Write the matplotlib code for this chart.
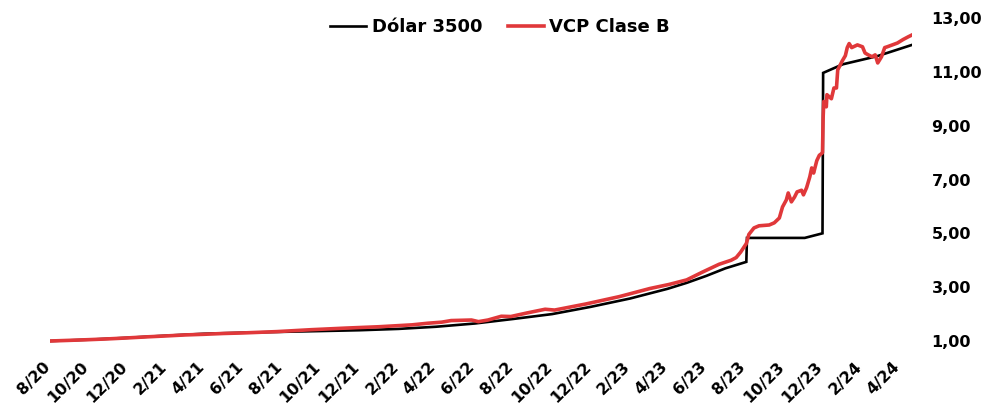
import matplotlib
matplotlib.use("Agg")
import matplotlib.dates as mdates
import matplotlib.pyplot as plt
import matplotlib.transforms as mtransforms
import pandas as pd

# Dólar 3500 (normalised, base 8/20 = 1)
dolar_dates = [
    "2020-08-01", "2020-10-01", "2020-12-01", "2021-02-01", "2021-04-01",
    "2021-06-01", "2021-08-01", "2021-10-01", "2021-12-01", "2022-02-01",
    "2022-04-01", "2022-06-01", "2022-08-01", "2022-10-01", "2022-12-01",
    "2023-02-01", "2023-04-01", "2023-05-01", "2023-06-01", "2023-07-01",
    "2023-08-03", "2023-08-04", "2023-11-03", "2023-12-01", "2023-12-02",
    "2024-01-02", "2024-02-25", "2024-04-20",
]
dolar_values = [
    1.00, 1.05, 1.12, 1.20, 1.27,
    1.31, 1.34, 1.37, 1.40, 1.45,
    1.53, 1.65, 1.82, 2.00, 2.27,
    2.58, 2.94, 3.16, 3.42, 3.70,
    3.94, 4.83, 4.83, 5.00, 10.96,
    11.28, 11.58, 12.00,
]

# VCP Clase B (normalised)
vcp_dates = [
    "2020-08-01", "2020-09-01", "2020-10-01", "2020-11-01", "2020-12-01",
    "2021-01-01", "2021-02-01", "2021-03-01", "2021-04-01", "2021-05-01",
    "2021-06-01", "2021-07-25", "2021-09-16", "2021-11-10", "2022-01-01",
    "2022-02-22", "2022-03-19", "2022-04-10", "2022-04-25", "2022-05-27",
    "2022-06-07", "2022-06-22", "2022-07-13", "2022-07-28", "2022-08-22",
    "2022-09-20", "2022-10-05", "2022-11-24", "2023-01-15", "2023-03-04",
    "2023-04-03", "2023-05-01", "2023-05-25", "2023-06-21", "2023-07-10",
    "2023-07-18", "2023-07-25", "2023-08-03", "2023-08-07", "2023-08-15",
    "2023-08-23", "2023-09-08", "2023-09-16", "2023-09-24", "2023-09-29",
    "2023-10-05", "2023-10-08", "2023-10-13", "2023-10-18", "2023-10-22",
    "2023-10-29", "2023-11-01", "2023-11-06", "2023-11-11", "2023-11-14",
    "2023-11-17", "2023-11-22", "2023-11-26", "2023-11-30", "2023-12-01",
    "2023-12-02", "2023-12-03", "2023-12-07", "2023-12-08", "2023-12-15",
    "2023-12-19", "2023-12-23", "2023-12-25", "2024-01-01", "2024-01-06",
    "2024-01-09", "2024-01-12", "2024-01-16", "2024-01-25", "2024-02-02",
    "2024-02-06", "2024-02-11", "2024-02-17", "2024-02-22", "2024-02-26",
    "2024-03-03", "2024-03-08", "2024-03-12", "2024-03-20", "2024-03-28",
    "2024-04-06", "2024-04-14", "2024-04-20",
]
vcp_values = [
    1.00, 1.025, 1.05, 1.08, 1.115,
    1.155, 1.19, 1.225, 1.25, 1.28,
    1.30, 1.35, 1.42, 1.48, 1.53,
    1.60, 1.66, 1.70, 1.76, 1.78,
    1.72, 1.78, 1.92, 1.91, 2.04,
    2.18, 2.15, 2.38, 2.65, 2.95,
    3.10, 3.27, 3.55, 3.85, 4.00,
    4.10, 4.30, 4.62, 4.96, 5.20,
    5.28, 5.31, 5.39, 5.57, 5.98,
    6.24, 6.50, 6.17, 6.35, 6.54,
    6.60, 6.43, 6.70, 7.10, 7.43,
    7.24, 7.70, 7.90, 7.97, 8.00,
    9.30, 9.90, 9.70, 10.15, 10.00,
    10.40, 10.40, 11.07, 11.40, 11.60,
    11.90, 12.05, 11.90, 12.00, 11.93,
    11.70, 11.63, 11.56, 11.63, 11.33,
    11.56, 11.90, 11.93, 12.00, 12.07,
    12.20, 12.30, 12.37,
]

y_ticks = [1, 3, 5, 7, 9, 11, 13]

font = "DejaVu Sans"
red = "#e0383a"

fig = plt.figure(figsize=(9.81, 4.08), dpi=100)
ax = fig.add_axes([50 / 981, 1 - 346.4 / 408, (912 - 50) / 981, (346.4 - 12.6) / 408])

d_dates = pd.to_datetime(dolar_dates)
v_dates = pd.to_datetime(vcp_dates)
ax.plot(d_dates, dolar_values, color="black", lw=1.9, label="Dólar 3500",
        solid_joinstyle="miter")
ax.plot(v_dates, vcp_values, color=red, lw=2.6, label="VCP Clase B")

ax.set_xlim(d_dates[0], d_dates[-1])
ax.set_ylim(0.8, 13.2)

ax.xaxis.set_major_locator(mdates.MonthLocator(bymonth=[2, 4, 6, 8, 10, 12]))
ax.xaxis.set_major_formatter(
    matplotlib.ticker.FuncFormatter(lambda v, p: "{}/{}".format(
        mdates.num2date(v).month, mdates.num2date(v).strftime("%y"))))
ax.yaxis.tick_right()
ax.set_yticks(y_ticks)
ax.set_yticklabels(["{:.2f}".format(v).replace(".", ",") for v in y_ticks])

ax.tick_params(axis="both", length=0, labelsize=11.5)
ax.tick_params(axis="x", pad=9)
ax.tick_params(axis="y", pad=14)
shift = mtransforms.ScaledTranslation(3 / 100, 0, fig.dpi_scale_trans)
for lbl in ax.get_xticklabels():
    lbl.set_rotation(45)
    lbl.set_ha("right")
    lbl.set_transform(lbl.get_transform() + shift)
for lbl in ax.get_xticklabels() + ax.get_yticklabels():
    lbl.set_fontfamily(font)
    lbl.set_fontweight("bold")
for s in ax.spines.values():
    s.set_visible(False)

fig.legend(loc="center", bbox_to_anchor=(500 / 981, 1 - 27 / 408), ncol=2,
           frameon=False, handlelength=2.0, handletextpad=0.3,
           columnspacing=1.4, prop={"family": font, "weight": "bold", "size": 13})

fig.savefig("out.png", dpi=100, facecolor="white")
